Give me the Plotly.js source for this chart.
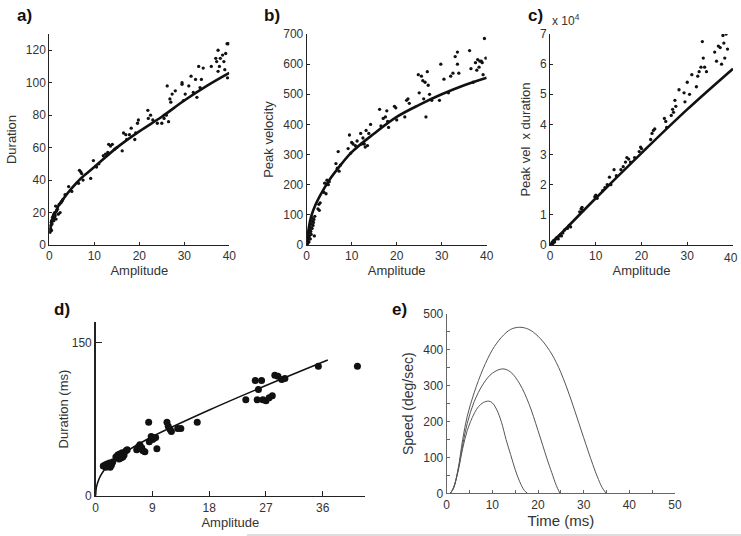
<!DOCTYPE html>
<html>
<head>
<meta charset="utf-8">
<script src="https://cdn.plot.ly/plotly-3.0.1.min.js"></script>
<style>
  html, body { margin: 0; padding: 0; background: #fff; overflow: hidden; }
  #chart { width: 741px; height: 536px; }
</style>
</head>
<body>
<div id="chart"></div>
<script>
// panel a: duration vs amplitude
let ampA = [0.2,0.3,0.3,0.4,0.5,0.5,0.6,0.7,0.8,0.9,1.0,1.0,1.1,1.2,1.3,1.4,1.5,1.6,1.8,2.0,2.2,2.4,2.6,2.8,3.0,
  3.5,4.3,5.0,6.5,6.7,7.0,7.2,7.5,9.2,9.8,10.5,11.0,12.0,12.5,13.0,13.2,13.6,14.0,14.5,15.0,
  16.2,16.5,17.0,17.2,17.8,18.2,19.0,19.2,19.6,19.8,21.9,22.0,22.5,23.0,24.0,25.0,25.5,26.0,26.2,26.5,26.8,27.0,27.3,28.0,
  29.5,29.5,29.8,30.2,31.0,31.5,32.0,32.5,32.8,33.2,33.5,33.8,34.2,36.0,37.0,37.2,37.5,37.5,37.8,38.0,38.5,38.8,39.0,39.2,39.5,39.8,39.6];
let durA = [8,10,12,14,9,15,13,17,16,18,15,19,17,20,18,24,16,21,22,19,25,20,26,27,28,
  31,36,33,38,46,45,44,40,41,52,48,50,55,56,57,62,61,62,59,60,
  58,69,68,65,68,72,65,69,75,77,83,78,80,77,75,75,78,80,98,76,90,88,93,95,
  100,99,89,93,98,104,94,102,91,110,97,102,109,110,115,113,120,107,110,115,117,113,108,118,124,124,103];
let fitAmpA = [0,0.5,1,2,3,5,7,10,15,20,25,30,35,40];
let fitDurA = [7,13,17,24,28,35,41,48,60,70,79,89,98,106];

// panel b: peak velocity vs amplitude
let ampB = [0.2,0.3,0.4,0.5,0.5,0.6,0.7,0.8,0.8,0.9,1.0,1.0,1.1,1.2,1.2,1.4,1.5,1.6,1.7,1.8,
  2.5,2.7,2.8,3.0,3.8,4.0,4.3,4.5,4.8,5.0,6.5,6.8,7.0,7.2,7.5,
  9.2,9.5,9.8,10.0,10.3,10.8,11.2,12.0,12.2,12.5,12.8,13.0,13.2,13.5,13.8,14.2,
  16.2,16.5,17.0,17.5,17.8,18.0,18.2,19.5,19.8,20.0,21.8,22.2,22.5,22.8,24.8,25.0,25.5,25.8,26.0,26.3,26.5,26.8,27.0,27.3,27.8,
  29.5,29.8,30.5,31.5,32.0,32.5,33.0,33.5,33.5,33.8,36.2,36.5,37.0,37.5,37.8,38.0,38.3,38.5,38.8,39.0,39.2,39.5,39.8];
let velB = [5,15,25,10,40,30,50,20,60,45,70,35,80,55,90,65,75,85,30,95,
  120,135,115,140,175,205,170,215,200,210,270,255,310,245,265,
  320,365,305,340,335,330,345,370,335,355,335,325,380,330,370,400,
  450,395,420,425,445,410,390,460,455,415,425,480,485,470,565,505,560,545,485,540,425,575,530,500,480,
  480,600,550,505,560,570,625,640,600,570,645,585,540,605,580,615,590,610,610,605,565,685,620];
let fitAmpB = [0,0.5,1,2,3,5,7,10,15,20,25,30,35,40];
let fitVelB = [0,60,95,135,165,215,255,308,370,425,465,500,530,555];

// panel c: peak velocity x duration (x 10^4) vs amplitude
let ampC = [0.2,0.4,0.5,0.6,0.8,1.0,1.2,1.5,1.8,2.0,2.3,2.5,2.8,3.2,3.8,4.2,4.5,6.5,6.8,7.0,7.2,
  9.8,10.0,10.3,11.5,12.0,12.5,13.0,13.3,14.0,14.5,15.5,16.0,16.5,16.8,17.2,17.6,18.5,19.5,19.8,20.0,
  22.0,22.3,22.6,22.9,25.0,25.3,25.5,26.5,26.8,27.0,27.3,27.5,28.2,29.3,29.5,30.0,30.5,31.0,32.0,32.3,32.6,33.0,33.3,33.5,33.8,34.2,
  36.0,36.4,36.8,37.2,37.5,37.8,38.0,38.2,38.5,38.8];
let prodC = [0.02,0.05,0.1,0.05,0.15,0.1,0.2,0.25,0.2,0.3,0.35,0.3,0.4,0.5,0.55,0.65,0.6,1.1,1.2,1.25,1.15,
  1.6,1.65,1.55,1.8,1.9,2.0,2.25,2.0,2.5,2.3,2.5,2.6,2.75,2.9,2.85,2.75,2.9,3.1,3.25,3.2,
  3.5,3.7,3.8,3.85,4.2,4.1,3.9,4.3,4.5,4.4,4.8,4.6,5.15,5.05,4.75,5.4,5.0,5.65,5.25,5.6,5.75,5.9,6.75,6.2,5.9,5.75,
  6.4,6.1,6.6,6.55,6.0,6.95,6.7,6.2,7.0,6.5];
let fitAmpC = [0,10,20,30,40];
let fitProdC = [0,1.55,3.05,4.5,5.85];
let ticksAmpC = [0,10,20,30,40];

// panel d: duration (ms) vs amplitude
let ampD = [1.2,1.5,1.6,1.8,2.0,2.2,2.3,2.5,2.7,3.2,3.5,3.7,3.8,4.0,4.2,4.3,4.5,4.8,5.0,
  6.5,6.8,7.0,7.2,7.3,7.5,7.8,8.5,8.8,9.0,9.2,8.4,9.5,9.7,11.3,11.5,11.8,12.0,13.0,13.5,16.1,
  23.8,25.3,26.3,25.8,25.6,26.5,27.0,27.5,28.0,28.4,28.9,29.5,30.0,35.3,41.5];
let durD = [29,30,28,31,29,32,28,30,33,38,40,36,41,37,42,38,40,44,45,
  45,48,50,46,47,44,43,53,58,55,56,72,57,46,72,68,65,63,66,66,72,
  94,113,113,104,94,94,93,96,98,118,117,114,115,127,127];
let fitAmpD = [0,0.1,0.5,1,2,3,5,9,18,27,36.8];
let fitDurD = [0,8,16,22,30,36,44,58,84,108,133];

// panel e: speed profiles
let timeE1 = [0.8,1.5,2.5,3.5,4.5,6,7,8,9.2,10,11,12,13,14,15,16,17,17.7];
let speedE1 = [0,15,62,125,175,222,242,253,257,252,232,198,150,108,66,32,8,0];
let timeE2 = [0.8,1.5,2.5,3.5,4.5,6,8,10,12.3,14,16,18,20,22,23,24,24.8];
let speedE2 = [0,15,65,135,195,255,305,335,347,338,305,250,175,95,58,22,0];
let timeE3 = [0.8,1.5,2.5,3.5,4.5,6,8,10,12,14,16,18,20,22,24,26,28,30,32,33,34,34.9];
let speedE3 = [0,15,68,150,215,280,348,400,435,457,463,457,438,408,365,305,232,155,80,46,17,0];

const FONT = 'Liberation Sans, Arial, sans-serif';
const TXT = '#333';
const W = 741, H = 536;
const px = v => v / W;
const py = v => 1 - v / H;

function axisBase(extra) {
  return Object.assign({
    showline: true, linecolor: '#222', linewidth: 1,
    ticks: 'inside', ticklen: 3, tickcolor: '#222',
    showgrid: false, zeroline: false, fixedrange: true,
    automargin: false, tickangle: 0,
    tickfont: {family: FONT, size: 12, color: TXT}
  }, extra);
}

let dot = {color: '#111', size: 3.3};
let fitLine = {color: '#111', width: 2.6};

let data = [
  {x: ampA, y: durA, type: 'scatter', mode: 'markers', marker: dot, xaxis: 'x', yaxis: 'y'},
  {x: fitAmpA, y: fitDurA, type: 'scatter', mode: 'lines', line: Object.assign({shape: 'spline'}, fitLine), xaxis: 'x', yaxis: 'y'},
  {x: ampB, y: velB, type: 'scatter', mode: 'markers', marker: dot, xaxis: 'x2', yaxis: 'y2'},
  {x: fitAmpB, y: fitVelB, type: 'scatter', mode: 'lines', line: Object.assign({shape: 'spline'}, fitLine), xaxis: 'x2', yaxis: 'y2'},
  {x: ampC, y: prodC, type: 'scatter', mode: 'markers', marker: dot, xaxis: 'x3', yaxis: 'y3'},
  {x: fitAmpC, y: fitProdC, type: 'scatter', mode: 'lines', line: Object.assign({shape: 'spline'}, fitLine), xaxis: 'x3', yaxis: 'y3'},
  {x: ampD, y: durD, type: 'scatter', mode: 'markers', marker: {color: '#111', size: 7}, xaxis: 'x4', yaxis: 'y4'},
  {x: fitAmpD, y: fitDurD, type: 'scatter', mode: 'lines', line: {color: '#111', width: 1.5, shape: 'spline'}, xaxis: 'x4', yaxis: 'y4'},
  {x: timeE1, y: speedE1, type: 'scatter', mode: 'lines', line: {color: '#555', width: 1, shape: 'spline'}, xaxis: 'x5', yaxis: 'y5'},
  {x: timeE2, y: speedE2, type: 'scatter', mode: 'lines', line: {color: '#555', width: 1, shape: 'spline'}, xaxis: 'x5', yaxis: 'y5'},
  {x: timeE3, y: speedE3, type: 'scatter', mode: 'lines', line: {color: '#555', width: 1, shape: 'spline'}, xaxis: 'x5', yaxis: 'y5'}
];

let titleFont = {family: FONT, size: 13, color: TXT};
let labelFont = {family: FONT, size: 17, color: '#111'};

function panelLabel(txt, x, y) {
  return {text: '<b>' + txt + '</b>', x: px(x), y: py(y), xref: 'paper', yref: 'paper',
    xanchor: 'center', yanchor: 'middle', showarrow: false, font: labelFont};
}

let topRow = [py(245), py(34)];
let lastC = ticksAmpC[ticksAmpC.length - 1];
let cRight = 733;

let layout = {
  width: W, height: H,
  margin: {l: 0, r: 0, t: 0, b: 0},
  paper_bgcolor: '#fff', plot_bgcolor: '#fff',
  showlegend: false,
  font: {family: FONT, color: TXT},
  xaxis: axisBase({domain: [px(49.3), px(229.3)], range: [0, 40], dtick: 10, anchor: 'y',
    title: {text: 'Amplitude', font: titleFont, standoff: 2}}),
  yaxis: axisBase({domain: topRow, range: [0, 130], tickvals: [0,20,40,60,80,100,120], anchor: 'x',
    title: {text: 'Duration', font: titleFont, standoff: 6}}),
  xaxis2: axisBase({domain: [px(306.7), px(486.7)], range: [0, 40], dtick: 10, anchor: 'y2',
    title: {text: 'Amplitude', font: titleFont, standoff: 2}}),
  yaxis2: axisBase({domain: topRow, range: [0, 700], dtick: 100, anchor: 'x2',
    title: {text: 'Peak velocity', font: titleFont, standoff: 6}}),
  // the last label of this axis sits at the page edge and is dropped by the library,
  // so it is written by a right-anchored annotation ending just inside the page
  xaxis3: axisBase({domain: [px(550), px(cRight)], range: [0, 40], tickmode: 'array', tickvals: ticksAmpC,
    ticktext: ticksAmpC.map(v => v === lastC ? '' : String(v)), anchor: 'y3',
    title: {text: 'Amplitude', font: titleFont, standoff: 2}}),
  yaxis3: axisBase({domain: topRow, range: [0, 7], dtick: 1, anchor: 'x3',
    title: {text: 'Peak vel  x duration', font: titleFont, standoff: 6}}),
  xaxis4: axisBase({domain: [px(95.7), px(365)], range: [0, 42.7], tickvals: [0,9,18,27,36], anchor: 'y4',
    linewidth: 1.5, ticklen: 5, title: {text: 'Amplitude', font: titleFont, standoff: 2}}),
  yaxis4: axisBase({domain: [py(495.7), py(322.3)], range: [0, 170], tickvals: [0,150], anchor: 'x4',
    linewidth: 1.5, ticklen: 6, title: {text: 'Duration (ms)', font: titleFont, standoff: 0}}),
  xaxis5: axisBase({domain: [px(446.7), px(675)], range: [0, 50], dtick: 10, anchor: 'y5',
    linecolor: '#666', tickcolor: '#666',
    minor: {ticks: 'inside', dtick: 5, ticklen: 3, tickcolor: '#666'},
    title: {text: 'Time (ms)', font: {family: FONT, size: 15, color: TXT}, standoff: 4}}),
  yaxis5: axisBase({domain: [py(493.3), py(314)], range: [0, 500], dtick: 100, anchor: 'x5',
    linecolor: '#666', tickcolor: '#666',
    minor: {ticks: 'inside', dtick: 50, ticklen: 3, tickcolor: '#666'},
    title: {text: 'Speed (deg/sec)', font: {family: FONT, size: 14, color: TXT}, standoff: 6}}),
  annotations: [
    panelLabel('a)', 24, 15),
    panelLabel('b)', 272, 15),
    panelLabel('c)', 535, 15),
    panelLabel('d)', 62, 309),
    panelLabel('e)', 399, 309),
    {text: 'x 10<sup>4</sup>', x: px(550), y: py(30), xref: 'paper', yref: 'paper',
      xanchor: 'left', yanchor: 'bottom', showarrow: false, font: {family: FONT, size: 12, color: TXT}},
    {text: String(lastC), x: px(cRight + 7), y: py(258), xref: 'paper', yref: 'paper',
      xanchor: 'right', yanchor: 'middle', showarrow: false, font: {family: FONT, size: 12, color: TXT}}
  ],
  shapes: [
    {type: 'line', xref: 'paper', yref: 'paper', x0: px(247), x1: 1, y0: 1 / H, y1: 1 / H, line: {color: '#bbb', width: 1}}
  ]
};

Plotly.newPlot('chart', data, layout, {staticPlot: true, displayModeBar: false});
</script>
</body>
</html>
